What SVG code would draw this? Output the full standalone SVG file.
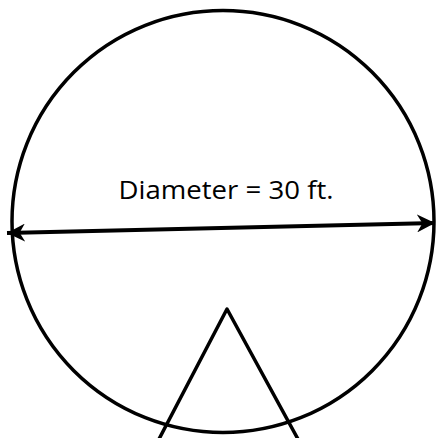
<svg xmlns="http://www.w3.org/2000/svg" width="437" height="438" viewBox="0 0 437 438">
<style>
.s{fill:none;stroke:#000;stroke-width:3.5}
.t{font-family:"Open Sans","Liberation Sans",sans-serif;font-size:25px;fill:#000}
</style>
<defs>
<marker id="ah" viewBox="0 0 10 10" refX="10" refY="5" markerWidth="4.5" markerHeight="4.5" orient="auto-start-reverse" markerUnits="strokeWidth">
<path d="M0,0 L10,5 L0,10 L3,5 Z" fill="#000"/>
</marker>
</defs>
<rect width="437" height="438" fill="#fff"/>
<g id="circle"><circle class="s" cx="223" cy="221.5" r="211"/></g>
<g id="triangle"><polyline class="s" points="158,441 227,309 299,441" stroke-linejoin="round"/></g>
<g id="label"><text class="t" x="226" y="199" text-anchor="middle" textLength="215" lengthAdjust="spacingAndGlyphs">Diameter = 30 ft.</text></g>
<g id="connectors"><line x1="7" y1="233" x2="435" y2="223" stroke="#000" stroke-width="4" marker-start="url(#ah)" marker-end="url(#ah)"/></g>
</svg>
